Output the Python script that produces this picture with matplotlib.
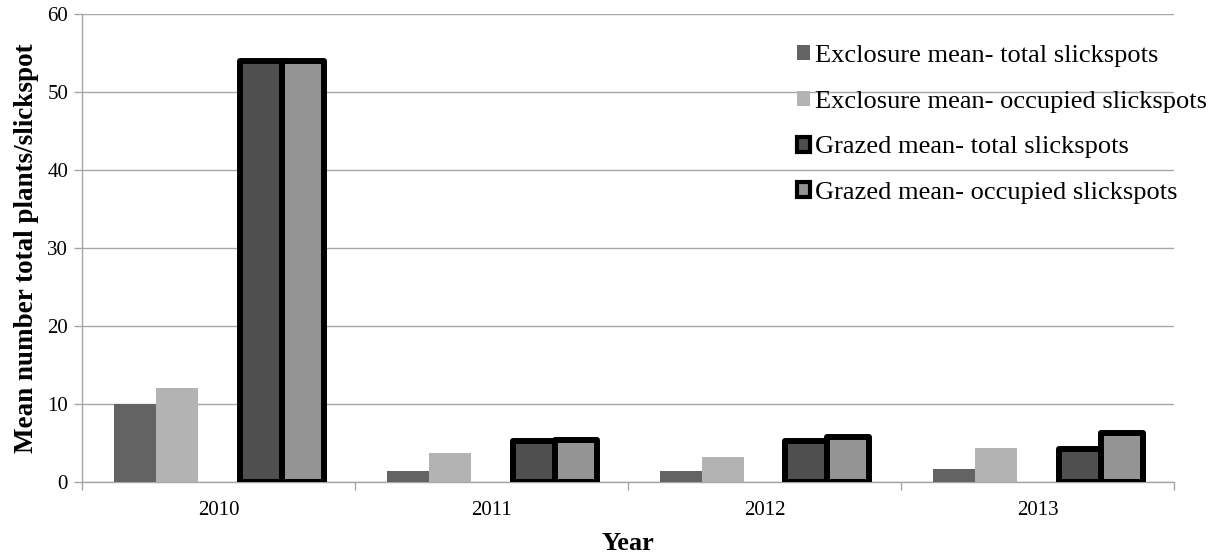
import numpy as np
import matplotlib.pyplot as plt
from matplotlib.patches import Patch

years = ['2010', '2011', '2012', '2013']
exc_total = [10.0, 1.4, 1.4, 1.7]
exc_occupied = [12.0, 3.7, 3.2, 4.4]
grazed_total = [54.0, 5.2, 5.2, 4.2]
grazed_occupied = [54.0, 5.4, 5.8, 6.3]

labels = ['Exclosure mean- total slickspots',
          'Exclosure mean- occupied slickspots',
          'Grazed mean- total slickspots',
          'Grazed mean- occupied slickspots']
colors = ['#636363', '#b3b3b3', '#4f4f4f', '#949494']

plt.rcParams['font.family'] = ['Liberation Serif', 'DejaVu Serif']

fig = plt.figure(figsize=(12.25, 5.56), dpi=100)
ax = fig.add_axes([82/1225, 74/556, 1092/1225, 468/556])

x = np.arange(len(years))
w = 1 / 6.5  # 5 slots (middle one empty) + 150% gap
ax.bar(x - 2*w, exc_total, w, color=colors[0], zorder=3)
ax.bar(x - w, exc_occupied, w, color=colors[1], zorder=3)
ax.bar(x + w, grazed_total, w, color=colors[2],
       edgecolor='black', linewidth=4.3, joinstyle='round', zorder=3)
ax.bar(x + 2*w, grazed_occupied, w, color=colors[3],
       edgecolor='black', linewidth=4.3, joinstyle='round', zorder=3)

ax.set_xlim(-0.5, 3.5)
ax.set_ylim(0, 60)
ax.set_yticks(np.arange(0, 61, 10))
ax.yaxis.grid(True, color='#a6a6a6', linewidth=1, zorder=0)
ax.set_axisbelow(True)

ax.set_xticks(np.arange(-0.5, 4, 1))
ax.set_xticklabels([])
ax.set_xticks(x, minor=True)
ax.set_xticklabels(years, minor=True)
ax.tick_params(axis='x', which='major', length=6, color='#a6a6a6', width=1)
ax.tick_params(axis='x', which='minor', length=0, pad=13.5, labelsize=15)
ax.tick_params(axis='y', length=6, color='#a6a6a6', width=1, labelsize=15, pad=4)

for s in ['top', 'right']:
    ax.spines[s].set_visible(False)
for s in ['left', 'bottom']:
    ax.spines[s].set_color('#a6a6a6')
    ax.spines[s].set_linewidth(1)

ax.set_xlabel('Year', fontsize=19, fontweight='bold', labelpad=9)
ax.set_ylabel('Mean number total plants/slickspot', fontsize=19.5, fontweight='bold', labelpad=6)

handles = [Patch(facecolor=colors[0]),
           Patch(facecolor=colors[1]),
           Patch(facecolor=colors[2], edgecolor='black', linewidth=3, joinstyle='round'),
           Patch(facecolor=colors[3], edgecolor='black', linewidth=3, joinstyle='round')]
fig.legend(handles, labels, loc='upper left', bbox_to_anchor=(797/1225, 1 - 45/556),
           frameon=False, fontsize=19, handlelength=0.5, handleheight=0.5,
           handletextpad=0.2, labelspacing=0.9, borderaxespad=0, borderpad=0)

plt.savefig('out.png', dpi=100)
